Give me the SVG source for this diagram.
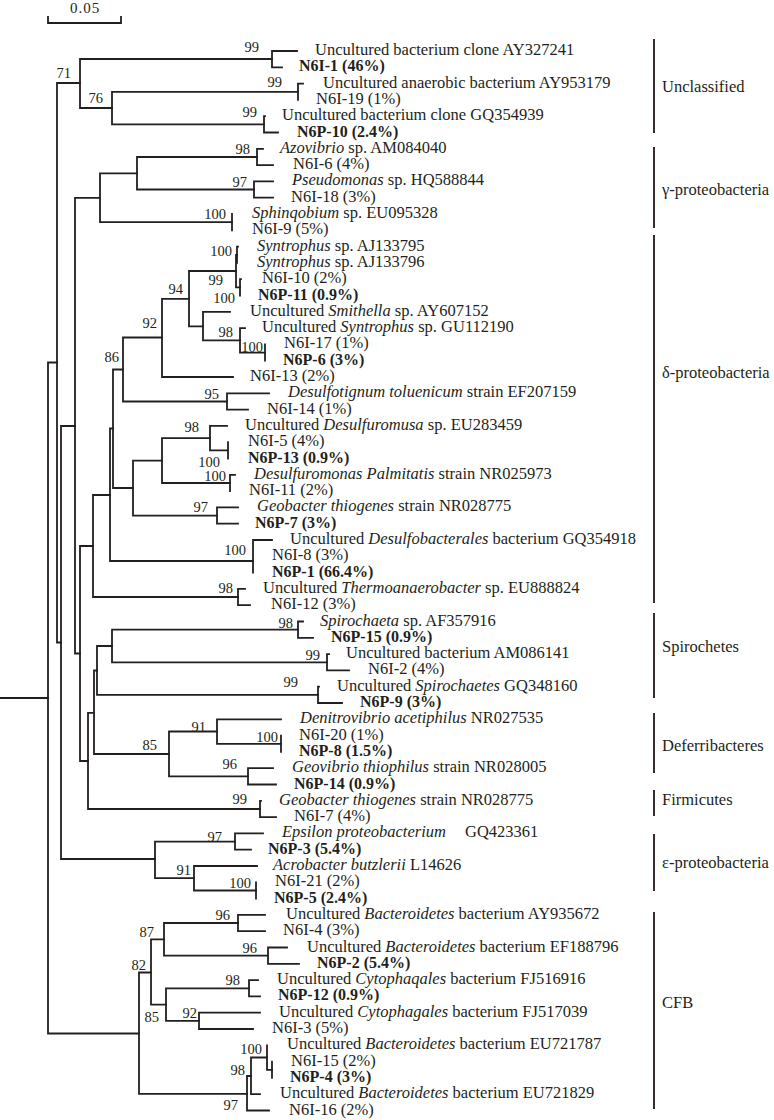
<svg xmlns="http://www.w3.org/2000/svg" width="774" height="1120" viewBox="0 0 774 1120">
<style>
.t{font-family:"Liberation Serif","Times New Roman",serif;font-size:16.5px;fill:#231f20}
.b{font-weight:bold;font-size:16px}
.i{font-style:italic}
.bs{font-family:"Liberation Serif","Times New Roman",serif;font-size:14.5px;fill:#231f20;text-anchor:end}
.ln{fill:none;stroke:#231f20;stroke-width:1.8;stroke-linecap:square;stroke-linejoin:miter}
.bar{fill:none;stroke:#3a2c2c;stroke-width:2}
</style>
<rect width="774" height="1120" fill="#fff"/>
<g id="scale">
<path class="ln" d="M48 17V23H121V17"/>
<text class="t" x="85" y="13" text-anchor="middle" style="font-size:15px;letter-spacing:1px">0.05</text>
</g>
<g id="connectors">
<path class="ln" d="M0 698H48"/>
<path class="ln" d="M57 362.5H48V1033.5H139"/>
<path class="ln" d="M80 83H57V642.5H61"/>
<path class="ln" d="M272 59H80V108H112"/>
<path class="ln" d="M297 51H272V67.3H282"/>
<path class="ln" d="M298 91.8H112V124.4H264"/>
<path class="ln" d="M303 83.6H298V99.9"/>
<path class="ln" d="M265 116.2H264V132.5H278"/>
<path class="ln" d="M75 426H61V859H155"/>
<path class="ln" d="M100 197.8H75V653.5H80"/>
<path class="ln" d="M137 173.3H100V222.2H232"/>
<path class="ln" d="M257 157H137V189.5H254"/>
<path class="ln" d="M263 148.8H257V165.1H273"/>
<path class="ln" d="M273 181.4H254V197.7H273"/>
<path class="ln" d="M232 214V230.3"/>
<path class="ln" d="M93 546H80V761H88"/>
<path class="ln" d="M110 495H93V597H238"/>
<path class="ln" d="M245 588.9H238V605.2H250"/>
<path class="ln" d="M113 428.5H110V561H253"/>
<path class="ln" d="M272 540H253V572.6"/>
<path class="ln" d="M123 369.5H113V488H133"/>
<path class="ln" d="M162 337.5H123V401.5H227"/>
<path class="ln" d="M269 393.3H227V409.6H248"/>
<path class="ln" d="M189 298.8H162V377H233"/>
<path class="ln" d="M236 271H189V326.4H203"/>
<path class="ln" d="M237 254.8H236V287.4H240"/>
<path class="ln" d="M238 246.6H237V262.9"/>
<path class="ln" d="M241 279.2H240V295.5"/>
<path class="ln" d="M230 311.8H203V340.3H240"/>
<path class="ln" d="M245 328.1H240V352.6H265"/>
<path class="ln" d="M265 344.4V360.7"/>
<path class="ln" d="M162 460.7H133V515.6H217"/>
<path class="ln" d="M210 438.1H162V483H230"/>
<path class="ln" d="M227 425.9H210V450.4H228"/>
<path class="ln" d="M228 442.2V458.5"/>
<path class="ln" d="M235 474.8H230V491.1"/>
<path class="ln" d="M238 507.4H217V523.7H238"/>
<path class="ln" d="M94 712.8H88V809H260"/>
<path class="ln" d="M261 800.8H260V817.1H276"/>
<path class="ln" d="M97 670.5H94V754H169"/>
<path class="ln" d="M112 646H97V694.9H318"/>
<path class="ln" d="M298 629.7H112V662.3H327"/>
<path class="ln" d="M303 621.5H298V637.8H313"/>
<path class="ln" d="M329 654.1H327V670.4H349"/>
<path class="ln" d="M319 686.7H318V703H342"/>
<path class="ln" d="M217 731.5H169V776.4H248"/>
<path class="ln" d="M281 719.3H217V743.8H281"/>
<path class="ln" d="M281 735.6V751.9"/>
<path class="ln" d="M273 768.2H248V784.5H276"/>
<path class="ln" d="M235 841.6H155V878.2H194"/>
<path class="ln" d="M263 833.4H235V849.7H251"/>
<path class="ln" d="M257 866H194V890.5H256"/>
<path class="ln" d="M256 882.3V898.6"/>
<path class="ln" d="M151 972.5H139V1093.8H247"/>
<path class="ln" d="M164 939.3H151V1004.6H166"/>
<path class="ln" d="M238 923H164V955.7H268"/>
<path class="ln" d="M265 914.9H238V931.2H265"/>
<path class="ln" d="M287 947.5H268V963.8H299"/>
<path class="ln" d="M249 988.3H166V1020.9H199"/>
<path class="ln" d="M258 980.1H249V996.4H260"/>
<path class="ln" d="M260 1012.7H199V1029H253"/>
<path class="ln" d="M251 1076H247V1110.5H269"/>
<path class="ln" d="M267 1057.5H251V1094.2H260"/>
<path class="ln" d="M267 1045.3V1069.8H272"/>
<path class="ln" d="M272 1061.6V1077.9"/>
</g>
<g id="bootstrap">
<text class="bs" x="71" y="78">71</text>
<text class="bs" x="259" y="52">99</text>
<text class="bs" x="103" y="103">76</text>
<text class="bs" x="282" y="87">99</text>
<text class="bs" x="257" y="117">99</text>
<text class="bs" x="250" y="154">98</text>
<text class="bs" x="247" y="187">97</text>
<text class="bs" x="226" y="219">100</text>
<text class="bs" x="232" y="256">100</text>
<text class="bs" x="223" y="285">99</text>
<text class="bs" x="235" y="303">100</text>
<text class="bs" x="183" y="294">94</text>
<text class="bs" x="233" y="337">98</text>
<text class="bs" x="263" y="352">100</text>
<text class="bs" x="157" y="328">92</text>
<text class="bs" x="119" y="362">86</text>
<text class="bs" x="219" y="399">95</text>
<text class="bs" x="199" y="432">98</text>
<text class="bs" x="220" y="467">100</text>
<text class="bs" x="226" y="481">100</text>
<text class="bs" x="208" y="512">97</text>
<text class="bs" x="246" y="555">100</text>
<text class="bs" x="233" y="593">98</text>
<text class="bs" x="293" y="628">98</text>
<text class="bs" x="320" y="660">99</text>
<text class="bs" x="298" y="687">99</text>
<text class="bs" x="206" y="732">91</text>
<text class="bs" x="278" y="742">100</text>
<text class="bs" x="157" y="750">85</text>
<text class="bs" x="237" y="769">96</text>
<text class="bs" x="247" y="804">99</text>
<text class="bs" x="222" y="842">97</text>
<text class="bs" x="191" y="875">91</text>
<text class="bs" x="251" y="888">100</text>
<text class="bs" x="230" y="920">96</text>
<text class="bs" x="154" y="937">87</text>
<text class="bs" x="146" y="970">82</text>
<text class="bs" x="257" y="953">96</text>
<text class="bs" x="240" y="985">98</text>
<text class="bs" x="159" y="1022">85</text>
<text class="bs" x="197" y="1018">92</text>
<text class="bs" x="262" y="1054">100</text>
<text class="bs" x="245" y="1075">98</text>
<text class="bs" x="238" y="1110">97</text>
</g>
<g id="n1"><text class="t" x="315" y="55">Uncultured bacterium clone AY327241</text></g>
<g id="n2"><text class="t b" x="299" y="71.3">N6I-1 (46%)</text></g>
<g id="n3"><text class="t" x="323" y="87.6">Uncultured anaerobic bacterium AY953179</text></g>
<g id="n4"><text class="t" x="316" y="103.9">N6I-19 (1%)</text></g>
<g id="n5"><text class="t" x="282" y="120.2">Uncultured bacterium clone GQ354939</text></g>
<g id="n6"><text class="t b" x="297" y="136.5">N6P-10 (2.4%)</text></g>
<g id="n7"><text class="t" x="280" y="152.8"><tspan class="i">Azovibrio</tspan> sp. AM084040</text></g>
<g id="n8"><text class="t" x="293" y="169.1">N6I-6 (4%)</text></g>
<g id="n9"><text class="t" x="292" y="185.4"><tspan class="i">Pseudomonas</tspan> sp. HQ588844</text></g>
<g id="n10"><text class="t" x="291" y="201.7">N6I-18 (3%)</text></g>
<g id="n11"><text class="t" x="252" y="218"><tspan class="i">Sphinqobium</tspan> sp. EU095328</text></g>
<g id="n12"><text class="t" x="252" y="234.3">N6I-9 (5%)</text></g>
<g id="n13"><text class="t" x="257" y="250.6"><tspan class="i">Syntrophus</tspan> sp. AJ133795</text></g>
<g id="n14"><text class="t" x="257" y="266.9"><tspan class="i">Syntrophus</tspan> sp. AJ133796</text></g>
<g id="n15"><text class="t" x="262" y="283.2">N6I-10 (2%)</text></g>
<g id="n16"><text class="t b" x="258" y="299.5">N6P-11 (0.9%)</text></g>
<g id="n17"><text class="t" x="250" y="315.8">Uncultured <tspan class="i">Smithella</tspan> sp. AY607152</text></g>
<g id="n18"><text class="t" x="262" y="332.1">Uncultured <tspan class="i">Syntrophus</tspan> sp. GU112190</text></g>
<g id="n19"><text class="t" x="284" y="348.4">N6I-17 (1%)</text></g>
<g id="n20"><text class="t b" x="283" y="364.7">N6P-6 (3%)</text></g>
<g id="n21"><text class="t" x="250" y="381">N6I-13 (2%)</text></g>
<g id="n22"><text class="t" x="288" y="397.3"><tspan class="i">Desulfotignum toluenicum</tspan> strain EF207159</text></g>
<g id="n23"><text class="t" x="267" y="413.6">N6I-14 (1%)</text></g>
<g id="n24"><text class="t" x="245" y="429.9">Uncultured <tspan class="i">Desulfuromusa</tspan> sp. EU283459</text></g>
<g id="n25"><text class="t" x="248" y="446.2">N6I-5 (4%)</text></g>
<g id="n26"><text class="t b" x="248" y="462.5">N6P-13 (0.9%)</text></g>
<g id="n27"><text class="t" x="254" y="478.8"><tspan class="i">Desulfuromonas Palmitatis</tspan> strain NR025973</text></g>
<g id="n28"><text class="t" x="249" y="495.1">N6I-11 (2%)</text></g>
<g id="n29"><text class="t" x="257" y="511.4"><tspan class="i">Geobacter thiogenes</tspan> strain NR028775</text></g>
<g id="n30"><text class="t b" x="255" y="527.7">N6P-7 (3%)</text></g>
<g id="n31"><text class="t" x="290" y="544">Uncultured <tspan class="i">Desulfobacterales</tspan> bacterium GQ354918</text></g>
<g id="n32"><text class="t" x="272" y="560.3">N6I-8 (3%)</text></g>
<g id="n33"><text class="t b" x="272" y="576.6">N6P-1 (66.4%)</text></g>
<g id="n34"><text class="t" x="263" y="592.9">Uncultured <tspan class="i">Thermoanaerobacter</tspan> sp. EU888824</text></g>
<g id="n35"><text class="t" x="271" y="609.2">N6I-12 (3%)</text></g>
<g id="n36"><text class="t" x="320" y="625.5"><tspan class="i">Spirochaeta</tspan> sp. AF357916</text></g>
<g id="n37"><text class="t b" x="331" y="641.8">N6P-15 (0.9%)</text></g>
<g id="n38"><text class="t" x="346" y="658.1">Uncultured bacterium AM086141</text></g>
<g id="n39"><text class="t" x="368" y="674.4">N6I-2 (4%)</text></g>
<g id="n40"><text class="t" x="337" y="690.7">Uncultured <tspan class="i">Spirochaetes</tspan> GQ348160</text></g>
<g id="n41"><text class="t b" x="360" y="707">N6P-9 (3%)</text></g>
<g id="n42"><text class="t" x="300" y="723.3"><tspan class="i">Denitrovibrio acetiphilus</tspan> NR027535</text></g>
<g id="n43"><text class="t" x="299" y="739.6">N6I-20 (1%)</text></g>
<g id="n44"><text class="t b" x="299" y="755.9">N6P-8 (1.5%)</text></g>
<g id="n45"><text class="t" x="292" y="772.2"><tspan class="i">Geovibrio thiophilus</tspan> strain NR028005</text></g>
<g id="n46"><text class="t b" x="294" y="788.5">N6P-14 (0.9%)</text></g>
<g id="n47"><text class="t" x="279" y="804.8"><tspan class="i">Geobacter thiogenes</tspan> strain NR028775</text></g>
<g id="n48"><text class="t" x="294" y="821.1">N6I-7 (4%)</text></g>
<g id="n49"><text class="t" x="282" y="837.4"><tspan class="i">Epsilon proteobacterium</tspan><tspan x="465">GQ423361</tspan></text></g>
<g id="n50"><text class="t b" x="268" y="853.7">N6P-3 (5.4%)</text></g>
<g id="n51"><text class="t" x="273" y="870"><tspan class="i">Acrobacter butzlerii</tspan> L14626</text></g>
<g id="n52"><text class="t" x="275" y="886.3">N6I-21 (2%)</text></g>
<g id="n53"><text class="t b" x="274" y="902.6">N6P-5 (2.4%)</text></g>
<g id="n54"><text class="t" x="286" y="918.9">Uncultured <tspan class="i">Bacteroidetes</tspan> bacterium AY935672</text></g>
<g id="n55"><text class="t" x="283" y="935.2">N6I-4 (3%)</text></g>
<g id="n56"><text class="t" x="307" y="951.5">Uncultured <tspan class="i">Bacteroidetes</tspan> bacterium EF188796</text></g>
<g id="n57"><text class="t b" x="317" y="967.8">N6P-2 (5.4%)</text></g>
<g id="n58"><text class="t" x="277" y="984.1">Uncultured <tspan class="i">Cytophaqales</tspan> bacterium FJ516916</text></g>
<g id="n59"><text class="t b" x="278" y="1000.4">N6P-12 (0.9%)</text></g>
<g id="n60"><text class="t" x="279" y="1016.7">Uncultured <tspan class="i">Cytophagales</tspan> bacterium FJ517039</text></g>
<g id="n61"><text class="t" x="272" y="1033">N6I-3 (5%)</text></g>
<g id="n62"><text class="t" x="287" y="1049.3">Uncultured <tspan class="i">Bacteroidetes</tspan> bacterium EU721787</text></g>
<g id="n63"><text class="t" x="291" y="1065.6">N6I-15 (2%)</text></g>
<g id="n64"><text class="t b" x="290" y="1081.9">N6P-4 (3%)</text></g>
<g id="n65"><text class="t" x="280" y="1098.2">Uncultured <tspan class="i">Bacteroidetes</tspan> bacterium EU721829</text></g>
<g id="n66"><text class="t" x="289" y="1114.5">N6I-16 (2%)</text></g>
<g id="groups">
<g id="g-unclassified"><path class="bar" d="M654 39V133"/><text class="t" x="662" y="92">Unclassified</text></g>
<g id="g-gamma"><path class="bar" d="M654 147V228"/><text class="t" x="662" y="195">γ-proteobacteria</text></g>
<g id="g-delta"><path class="bar" d="M654 235V603"/><text class="t" x="662" y="378">δ-proteobacteria</text></g>
<g id="g-spiro"><path class="bar" d="M654 613V698"/><text class="t" x="662" y="652">Spirochetes</text></g>
<g id="g-deferri"><path class="bar" d="M654 713V773"/><text class="t" x="662" y="751">Deferribacteres</text></g>
<g id="g-firmi"><path class="bar" d="M654 790V816"/><text class="t" x="662" y="805">Firmicutes</text></g>
<g id="g-epsilon"><path class="bar" d="M654 834V891"/><text class="t" x="662" y="868">ε-proteobacteria</text></g>
<g id="g-cfb"><path class="bar" d="M654 912V1109"/><text class="t" x="662" y="1008">CFB</text></g>
</g>
</svg>
